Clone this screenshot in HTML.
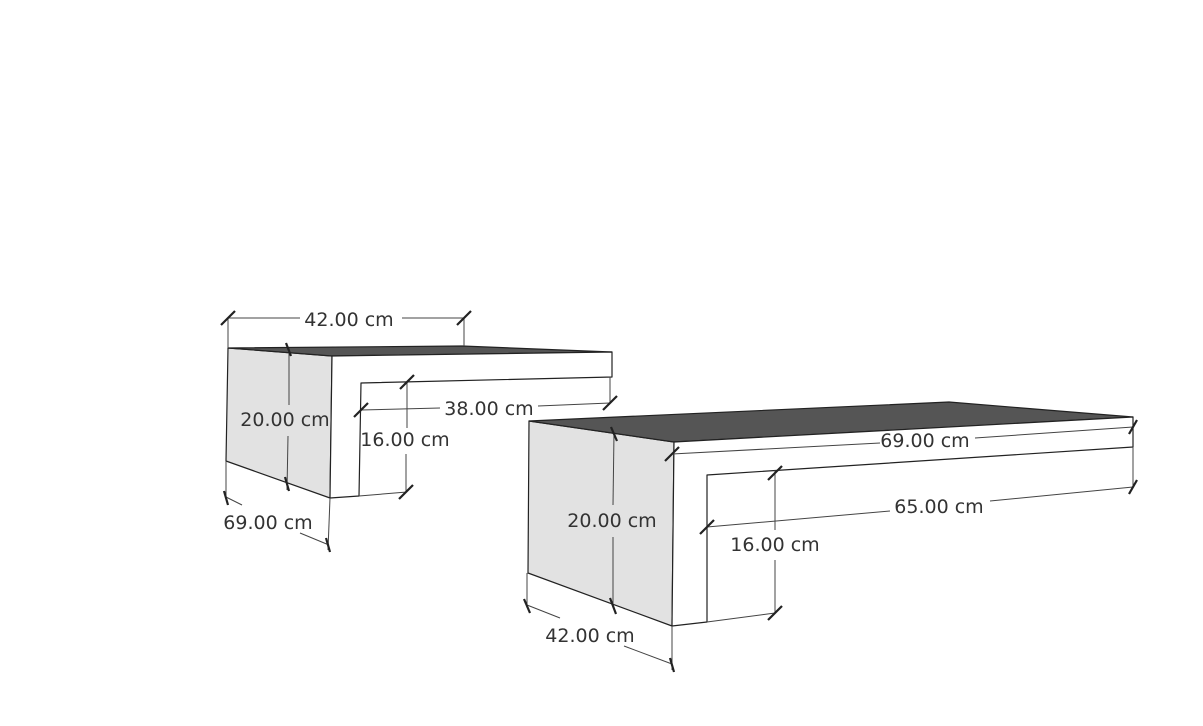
<!DOCTYPE html>
<html><head><meta charset="utf-8"><style>
html,body{margin:0;padding:0;background:#fff;width:1203px;height:726px;overflow:hidden}
text{font-family:"DejaVu Sans","Liberation Sans",sans-serif;font-size:19px;fill:#333;text-anchor:middle;dominant-baseline:central}
</style></head><body>
<svg width="1203" height="726" viewBox="0 0 1203 726" xmlns="http://www.w3.org/2000/svg">
<g stroke="#222" stroke-width="1.2" stroke-linejoin="round">
<polygon points="228,348 332,356 330,498 226,461" fill="#e2e2e2"/>
<polygon points="228,348 462,346 612,352 332,356" fill="#555"/>
<polygon points="332,356 612,352 612,377 361,383 359,496 330,498" fill="#fff"/>
<polygon points="529,421 674,442 672,626 528,573" fill="#e2e2e2"/>
<polygon points="529,421 949,402 1133,417 674,442" fill="#555"/>
<polygon points="674,442 1133,417 1133,447 707,475 707,622 672,626" fill="#fff"/>
</g>
<g stroke="#444" stroke-width="1" fill="none">
<line x1="359" y1="496" x2="407" y2="492"/>
<line x1="707" y1="622" x2="775" y2="613"/>
<line x1="228" y1="318" x2="228" y2="348"/><line x1="464" y1="318" x2="464" y2="346"/>
<line x1="228" y1="318" x2="300" y2="318"/><line x1="402" y1="318" x2="464" y2="318"/>
<line x1="289" y1="348" x2="289" y2="405"/><line x1="288" y1="436" x2="287" y2="490"/>
<line x1="361" y1="410" x2="440" y2="408"/><line x1="538" y1="406" x2="610" y2="403"/>
<line x1="610" y1="377" x2="610" y2="403"/>
<line x1="407" y1="382" x2="407" y2="428"/><line x1="406" y1="454" x2="406" y2="492"/>
<line x1="226" y1="461" x2="226" y2="500"/><line x1="330" y1="498" x2="328" y2="550"/>
<line x1="226" y1="497" x2="242" y2="505"/><line x1="300" y1="533" x2="329" y2="545"/>
<line x1="672" y1="454" x2="880" y2="443"/><line x1="975" y1="438" x2="1133" y2="427"/>
<line x1="1133" y1="447" x2="1133" y2="487"/>
<line x1="707" y1="527" x2="890" y2="511"/><line x1="990" y1="501" x2="1133" y2="487"/>
<line x1="775" y1="470" x2="775" y2="530"/><line x1="775" y1="560" x2="775" y2="613"/>
<line x1="614" y1="433" x2="613" y2="505"/><line x1="613" y1="537" x2="613" y2="608"/>
<line x1="527" y1="573" x2="527" y2="608"/><line x1="672" y1="626" x2="672" y2="670"/>
<line x1="527" y1="605" x2="560" y2="618"/><line x1="624" y1="646" x2="672" y2="664"/>
</g>
<g stroke="#222" stroke-width="2.2">
<line x1="221" y1="325" x2="235" y2="311"/><line x1="457" y1="325" x2="471" y2="311"/>
<line x1="286" y1="343" x2="291" y2="356"/><line x1="285" y1="477" x2="289" y2="491"/>
<line x1="354" y1="417" x2="368" y2="403"/><line x1="603" y1="410" x2="617" y2="396"/>
<line x1="400" y1="389" x2="414" y2="375"/><line x1="399" y1="499" x2="413" y2="485"/>
<line x1="224" y1="491" x2="228" y2="505"/><line x1="326" y1="538" x2="330" y2="552"/>
<line x1="665" y1="461" x2="679" y2="447"/><line x1="1129" y1="434" x2="1137" y2="420"/>
<line x1="700" y1="534" x2="714" y2="520"/><line x1="1129" y1="494" x2="1137" y2="480"/>
<line x1="768" y1="480" x2="782" y2="466"/><line x1="768" y1="620" x2="782" y2="606"/>
<line x1="611" y1="427" x2="617" y2="441"/><line x1="610" y1="598" x2="616" y2="614"/>
<line x1="524" y1="599" x2="530" y2="613"/><line x1="670" y1="658" x2="674" y2="672"/>
</g>
<text x="349" y="320">42.00 cm</text>
<text x="285" y="420">20.00 cm</text>
<text x="489" y="409">38.00 cm</text>
<text x="405" y="440">16.00 cm</text>
<text x="268" y="523">69.00 cm</text>
<text x="925" y="441">69.00 cm</text>
<text x="939" y="507">65.00 cm</text>
<text x="775" y="545">16.00 cm</text>
<text x="612" y="521">20.00 cm</text>
<text x="590" y="636">42.00 cm</text>
</svg>
</body></html>
